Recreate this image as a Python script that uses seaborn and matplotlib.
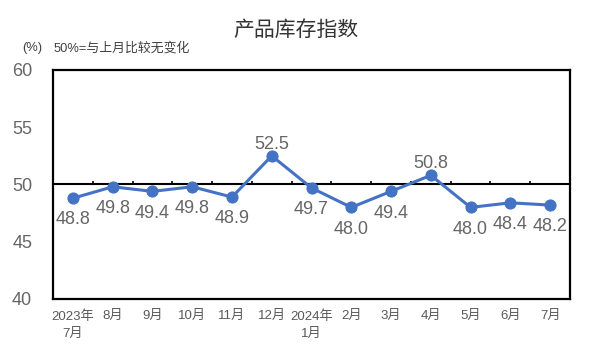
import numpy as np
import pandas as pd
import matplotlib
matplotlib.use("Agg")
import matplotlib.pyplot as plt
import seaborn as sns

sns.set_style("white")
plt.rcParams['font.family'] = ['Liberation Sans', 'Noto Sans CJK SC', 'DejaVu Sans']

# Data
months = ["2023年\n7月", "8月", "9月", "10月", "11月", "12月", "2024年\n1月",
          "2月", "3月", "4月", "5月", "6月", "7月"]
values = [48.8, 49.8, 49.4, 49.8, 48.9, 52.5, 49.7, 48.0, 49.4, 50.8, 48.0, 48.4, 48.2]
label_above = [False, False, False, False, False, True, False,
               False, False, True, False, False, False]

df = pd.DataFrame({"x": np.arange(len(months)), "value": values})

fig = plt.figure(figsize=(5.91, 3.54), dpi=100)
ax = fig.add_axes([0.0897, 0.1554, 0.8748, 0.6469])

# reference line at 50 with small category-boundary ticks
ax.axhline(50, color="black", linewidth=1.5, zorder=1)
ax.vlines(df["x"][:-1] + 0.5, 50, 50.3, color="black", linewidth=1.2, zorder=1)

sns.lineplot(data=df, x="x", y="value", ax=ax, color="#4472C4", linewidth=2.2,
             marker="o", markersize=8, markeredgecolor="#4472C4", zorder=3)

for xi, v, up in zip(df["x"], values, label_above):
    off = 5 if up else -9.5
    ax.annotate(f"{v:.1f}", (xi, v), xytext=(0, off), textcoords="offset points",
                ha="center", va="baseline" if up else "top", fontsize=13,
                color="#666666")

ax.set_xlim(-0.5, len(months) - 0.5)
ax.set_ylim(40, 60)
ax.set_yticks([40, 45, 50, 55, 60])
ax.set_xticks(df["x"])
ax.set_xticklabels(months, fontsize=9.5, color="#595959", linespacing=1.55)
ax.tick_params(axis="y", labelsize=13, labelcolor="#666666", length=0, pad=15)
ax.tick_params(axis="x", length=0, pad=8)
ax.set_xlabel("")
ax.set_ylabel("")
for s in ax.spines.values():
    s.set_color("black")
    s.set_linewidth(1.6)

fig.text(0.5, 0.915, "产品库存指数", ha="center", va="center", fontsize=15, color="#333333")
fig.text(0.037, 0.865, "(%)", ha="left", va="center", fontsize=9.3, color="#404040")
fig.text(0.09, 0.865, "50%=与上月比较无变化", ha="left", va="center", fontsize=9.3, color="#404040")

fig.savefig("out.png", dpi=100)
